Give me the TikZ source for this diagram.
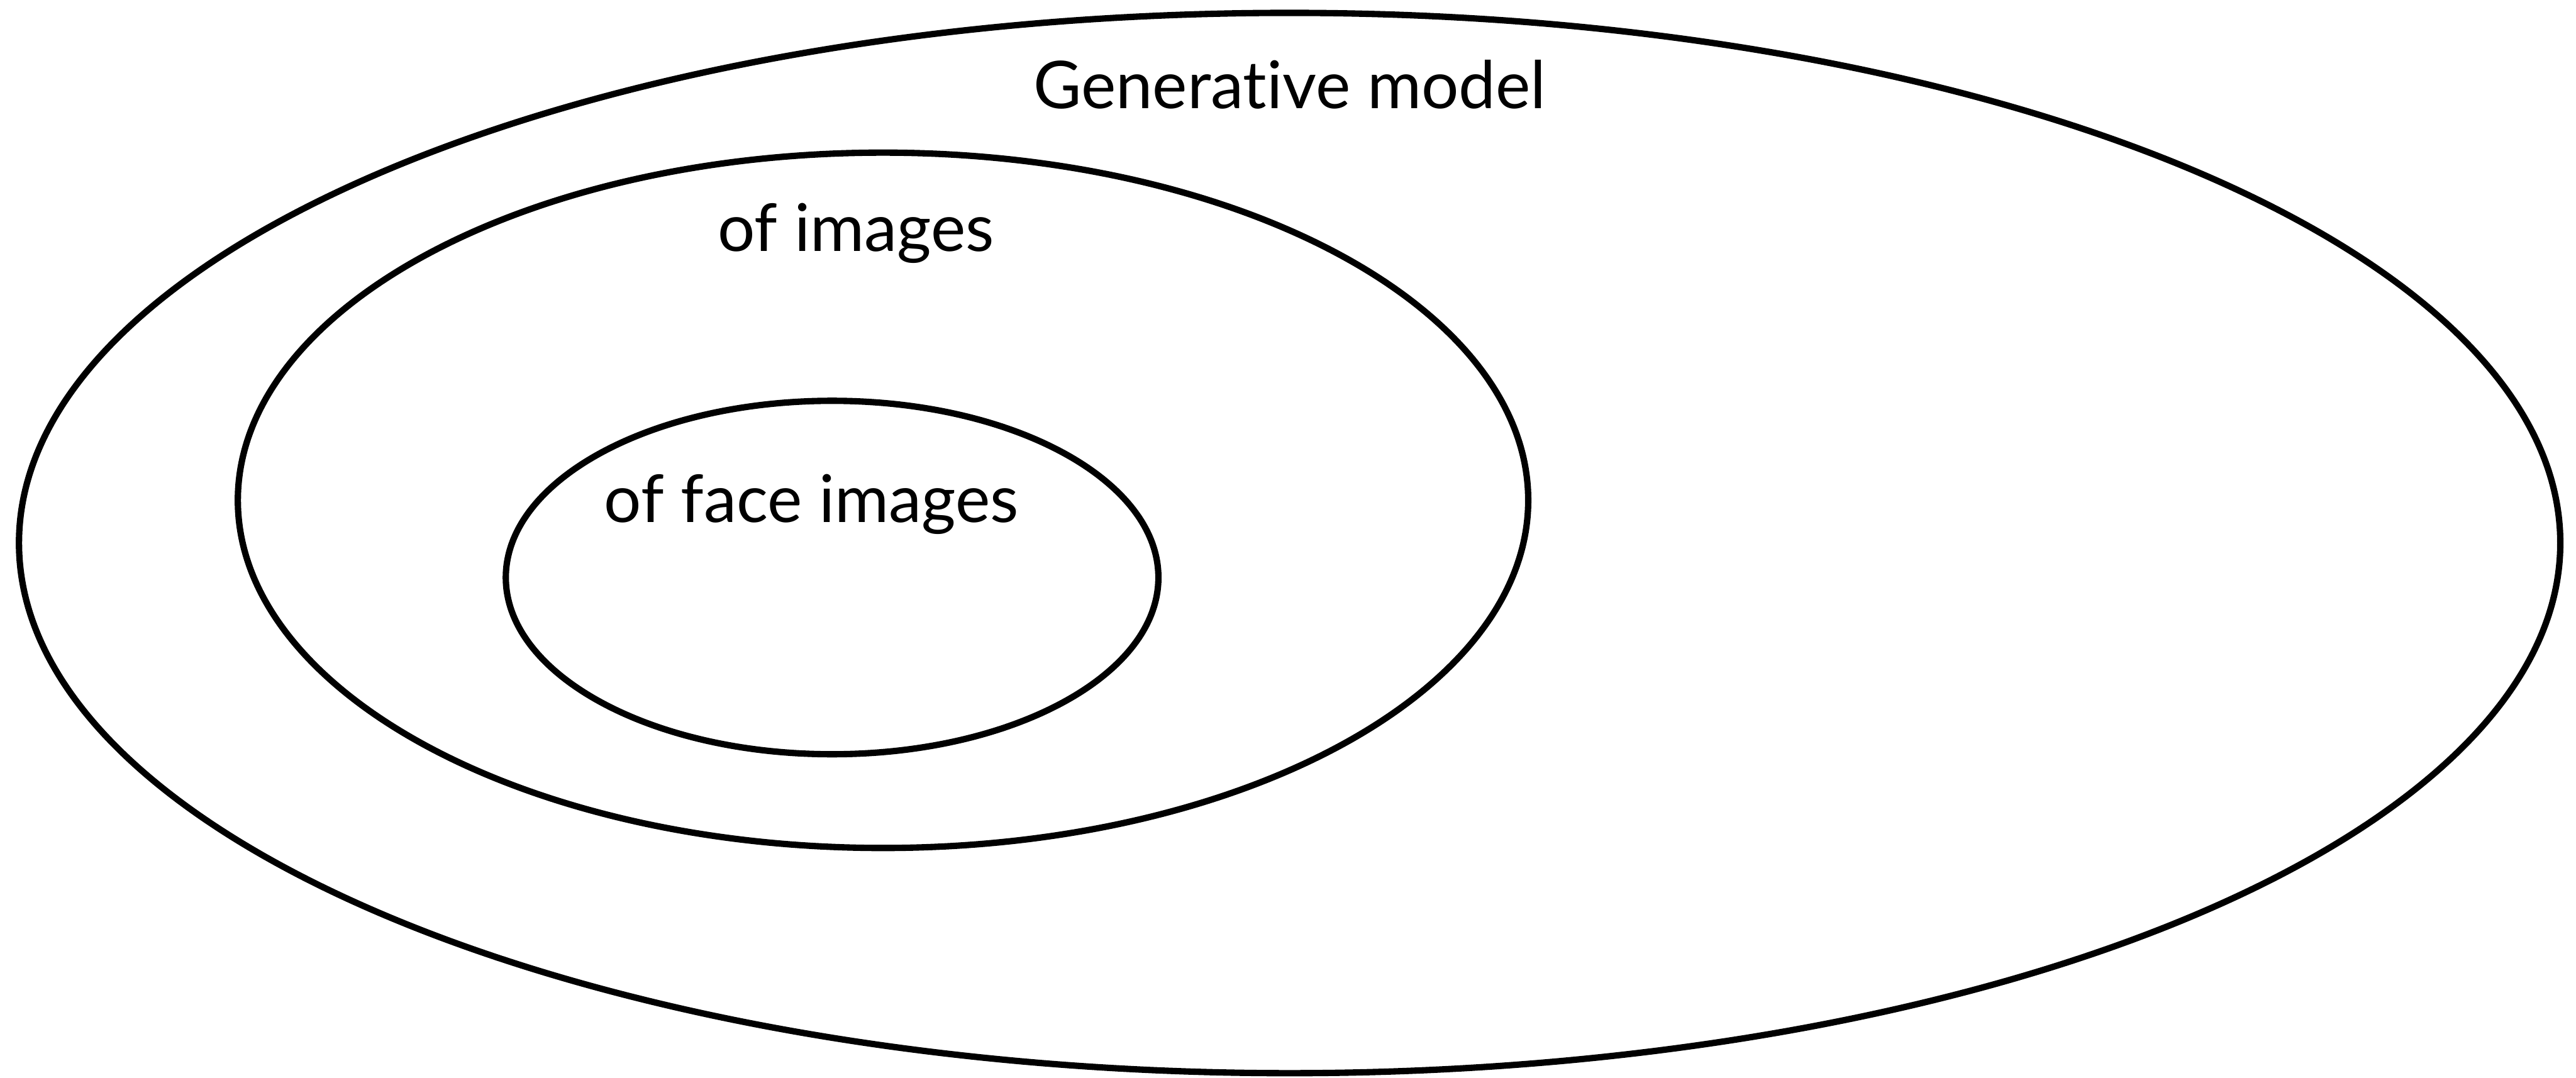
\documentclass[tikz,border=0pt]{standalone}
\usepackage{fontspec}
\setmainfont{Lato}[Ligatures={NoCommon}]
\usetikzlibrary{shapes.geometric}
\begin{document}
\begin{tikzpicture}[x=0.01cm,y=-0.01cm,
  setline/.style={draw=black,line width=1.1pt},
  lbl/.style={anchor=base,inner sep=0pt,font=\fontsize{11.4}{13}\selectfont}]
\useasboundingbox (0,0) rectangle (1568,656);
\node[setline,ellipse,minimum width=15.46cm,minimum height=6.45cm,inner sep=0pt] (outer) at (785,330.5) {};
\node[setline,ellipse,minimum width=7.85cm,minimum height=4.23cm,inner sep=0pt] (middle) at (537.5,304.5) {};
\node[setline,ellipse,minimum width=3.97cm,minimum height=2.15cm,inner sep=0pt] (inner) at (506.5,351.5) {};
\node[lbl] (t1) at (785,66) {Generat\kern0pt ive model};
\node[lbl] (t2) at (521,153) {of images};
\node[lbl] (t3) at (494,318) {of face images};
\end{tikzpicture}
\end{document}
